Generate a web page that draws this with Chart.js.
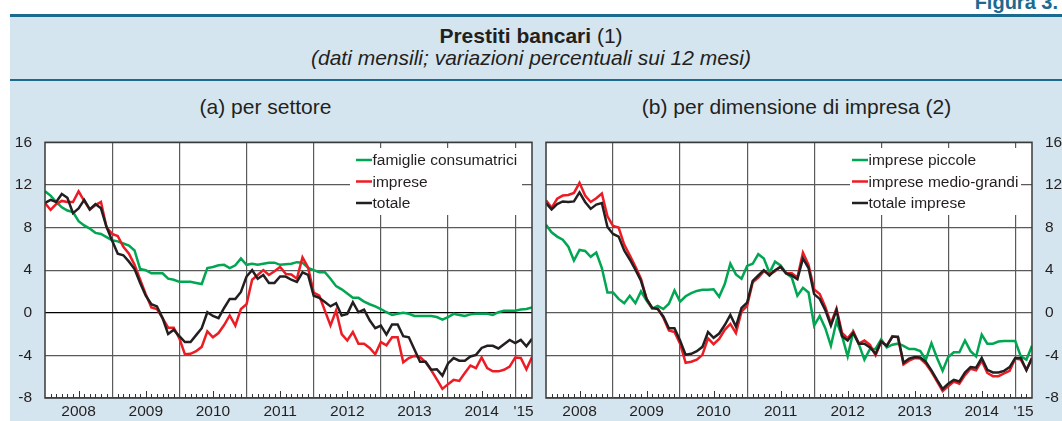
<!DOCTYPE html>
<html lang="it">
<head>
<meta charset="utf-8">
<title>Prestiti bancari</title>
<script src="https://cdn.jsdelivr.net/npm/chart.js@4.4.1/dist/chart.umd.min.js"></script>
<style>
    html, body { margin: 0; padding: 0; background: #fff; }
    body {
        width: 1062px; height: 421px; position: relative; overflow: hidden;
        font-family: "Liberation Sans", Arial, Helvetica, sans-serif; color: #231f20;
    }
    .band { position: absolute; left: 10px; right: 0; top: 14px; bottom: 0; background: #d5e5ef; border-top: 3px solid #1b6a90; }
    .rule { position: absolute; left: 10px; right: 0; top: 79px; height: 2px; background: #1b6a90; }
    .fig { position: absolute; right: 4px; top: -8px; font-size: 20px; line-height: 20px; font-weight: bold; color: #1b6a90; }
    .title, .subtitle, .ptitle { position: absolute; text-align: center; font-size: 21px; line-height: 21px; white-space: nowrap; }
    .title { left: 0; right: 0; top: 25px; }
    .subtitle { left: 0; right: 0; top: 47px; font-style: italic; }
    .ptitle { top: 96px; }
    canvas { position: absolute; top: 120px; }
    #chartA { left: 0; }
    #chartB { left: 540px; }
</style>
</head>
<body>
<div class="band"></div>
<div class="fig">Figura 3.</div>
<div class="title"><b>Prestiti bancari</b> (1)</div>
<div class="subtitle">(dati mensili; variazioni percentuali sui 12 mesi)</div>
<div class="rule"></div>
<div class="ptitle" style="left:0;width:531px">(a) per settore</div>
<div class="ptitle" style="left:531px;width:531px">(b) per dimensione di impresa (2)</div>
<canvas id="chartA" width="540" height="301"></canvas>
<canvas id="chartB" width="522" height="301"></canvas>

<script>
// monthly observations, Jan 2008 .. Apr 2015
const MONTHS = [];
for (let y = 2008; y <= 2015; y++) {
    for (let m = 1; m <= 12; m++) {
        if (y < 2015 || m <= 4) MONTHS.push(y + '-' + String(m).padStart(2, '0'));
    }
}
const YEAR_LABELS = ['2008', '2009', '2010', '2011', '2012', '2013', '2014', "'15"];
const Y_TICKS = [-8, -4, 0, 4, 8, 12, 16];

// (a) per settore
const famiglie = [
    11.4, 11.0, 10.4, 9.9, 9.6, 9.45, 8.6, 8.2, 7.9, 7.5, 7.4, 7.1,
    6.8, 6.7, 6.5, 6.3, 5.85, 4.1, 4.0, 3.7, 3.7, 3.7, 3.2, 3.1,
    2.9, 2.9, 2.9, 2.8, 2.7, 4.2, 4.3, 4.45, 4.5, 4.2, 4.45, 5.1,
    4.5, 4.6, 4.5, 4.6, 4.7, 4.7, 4.5, 4.55, 4.6, 4.75, 4.7, 4.2,
    4.0, 3.8, 3.8, 3.2, 2.5, 2.2, 1.8, 1.4, 1.4, 1.05, 0.8, 0.6,
    0.35, 0.05, -0.2, -0.1, 0.0, -0.1, -0.3, -0.3, -0.3, -0.3, -0.4, -0.65,
    -0.4, -0.1, -0.2, -0.3, -0.15, -0.1, -0.1, -0.1, -0.2, 0.05, 0.2, 0.2,
    0.2, 0.3, 0.35, 0.5
];
const imprese = [
    10.3, 9.65, 10.2, 10.5, 10.4, 10.4, 11.4, 10.5, 9.7, 10.1, 10.4, 8.0,
    7.4, 7.2, 6.2, 5.55, 4.5, 3.1, 1.75, 0.5, 0.35, -0.5, -1.4, -1.4,
    -2.4, -3.9, -3.85, -3.6, -3.2, -1.75, -2.3, -1.9, -1.15, -0.25, -1.2, 0.35,
    0.8, 3.1, 3.55, 4.0, 3.55, 3.9, 4.3, 3.65, 3.6, 3.2, 5.2, 4.25,
    1.9, 1.6, 0.2, -1.2, 0.2, -2.0, -2.6, -1.8, -2.9, -2.9, -3.3, -3.9,
    -2.75, -3.05, -2.3, -2.3, -4.65, -4.25, -4.05, -4.15, -4.65, -5.4, -6.25, -7.15,
    -6.7, -6.3, -6.4, -5.65, -4.95, -5.2, -4.2, -5.2, -5.5, -5.5, -5.35, -5.05,
    -4.2, -4.25, -5.3, -4.15
];
const totale = [
    10.3, 10.6, 10.4, 11.15, 10.8, 9.35, 9.8, 10.6, 9.7, 10.2, 9.8, 8.05,
    6.75, 5.55, 5.4, 4.8, 4.1, 2.8, 1.6, 0.8, 0.6, -0.5, -2.0, -1.6,
    -2.2, -2.75, -2.75, -2.1, -1.45, 0.05, -0.3, -0.5, 0.45, 1.3, 1.3, 1.95,
    3.4, 4.0, 3.2, 3.55, 2.8, 2.8, 3.4, 3.4, 3.1, 2.9, 3.8, 3.55,
    1.6, 1.4, 1.0, 0.6, 0.9, -0.25, -0.1, 1.0, 0.05, 0.3, -0.7, -1.45,
    -1.2, -2.05, -1.1, -1.1, -2.2, -2.3, -3.45, -4.6, -4.6, -5.35, -5.3, -5.9,
    -4.75, -4.25, -4.5, -4.5, -4.1, -3.95, -3.3, -3.1, -3.1, -3.35, -2.95, -2.55,
    -2.85, -2.55, -3.15, -2.45
];

// (b) per dimensione di impresa
const piccole = [
    8.25, 7.55, 7.15, 6.85, 6.2, 4.9, 5.9, 5.8, 5.25, 5.65, 4.2, 1.9,
    1.9, 1.3, 0.9, 1.6, 0.9, 2.0, 1.15, 0.4, 0.65, 0.35, 0.85, 2.1,
    1.05, 1.55, 1.85, 2.05, 2.15, 2.15, 2.2, 1.5, 2.7, 4.6, 3.6, 3.2,
    4.4, 4.6, 5.5, 5.1, 3.75, 4.8, 4.45, 3.7, 3.3, 1.6, 2.35, 1.9,
    -1.2, -0.3, -1.45, -3.1, -0.8, -2.2, -4.1, -1.8, -2.95, -4.4, -3.4, -3.4,
    -2.5, -3.25, -3.0, -2.9, -3.1, -3.4, -3.4, -3.6, -4.4, -2.85, -4.25, -5.45,
    -4.15, -3.7, -3.7, -2.6, -3.6, -4.1, -2.05, -2.9, -2.9, -2.7, -2.65, -2.65,
    -2.65, -4.1, -4.4, -3.1
];
const medioGrandi = [
    10.55, 9.85, 10.7, 11.0, 11.05, 11.25, 12.2, 11.0, 10.4, 10.75, 11.2, 9.05,
    8.15, 8.0, 6.4, 5.4, 4.35, 3.2, 1.3, 0.45, 0.4, -0.45, -1.65, -1.8,
    -2.9, -4.7, -4.6, -4.4, -3.95, -2.4, -2.95, -2.45, -1.6, -1.05, -1.9, 0.1,
    0.65, 2.85, 3.3, 3.9, 3.6, 3.9, 4.35, 3.7, 3.7, 3.3, 5.65, 4.5,
    2.2, 1.75, 0.55, -1.0, 0.4, -1.9, -2.4, -1.75, -2.9, -2.6, -3.0, -4.0,
    -2.7, -3.1, -2.2, -2.3, -4.85, -4.5, -4.25, -4.3, -4.8, -5.55, -6.45, -7.35,
    -6.9, -6.45, -6.65, -5.85, -5.25, -5.4, -4.5, -5.65, -5.95, -5.95, -5.7, -5.45,
    -4.3, -4.4, -5.35, -4.25
];
const totaleImprese = [
    10.3, 9.7, 10.2, 10.45, 10.4, 10.45, 11.3, 10.4, 9.75, 10.15, 10.3, 8.05,
    7.4, 7.15, 5.85, 5.0, 4.05, 3.0, 1.3, 0.45, 0.35, -0.35, -1.45, -1.45,
    -2.6, -3.95, -3.85, -3.6, -3.2, -1.8, -2.35, -1.95, -1.15, -0.2, -1.3, 0.45,
    0.95, 3.0, 3.5, 4.0, 3.5, 4.0, 4.3, 3.7, 3.5, 3.15, 5.1, 4.2,
    1.75, 1.3, 0.25, -1.2, 0.25, -2.2, -2.6, -1.9, -2.9, -2.9, -3.25, -3.85,
    -2.7, -3.1, -2.25, -2.25, -4.7, -4.3, -4.15, -4.2, -4.6, -5.4, -6.3, -7.15,
    -6.65, -6.3, -6.45, -5.6, -5.1, -5.15, -4.25, -5.35, -5.6, -5.6, -5.45, -5.1,
    -4.25, -4.25, -5.4, -4.25
];

const GREEN = '#00a651';
const RED = '#ed1c24';
const BLACK = '#231f20';
const TEXT = '#231f20';
const GRID = '#5a5a5a';
const FONT_FAMILY = '"Liberation Sans", Arial, Helvetica, sans-serif';
const FONT_SIZE = 15.5;

// x axis: month index, year boundaries every 12, year labels in the middle of each year
const LAST = MONTHS.length - 1;
const yearStarts = [];
const yearCentres = [];
MONTHS.forEach((m, i) => {
    if (m.endsWith('-01')) {
        if (i > 0) yearStarts.push(i);
        yearCentres.push((i + Math.min(i + 12, LAST)) / 2);
    }
});

const toPoints = arr => arr.map((v, i) => ({ x: i, y: v }));

// white plot background, frame and monthly ticks
const plotFrame = {
    id: 'plotFrame',
    beforeDraw(chart) {
        const a = chart.chartArea;
        const ctx = chart.ctx;
        ctx.save();
        ctx.fillStyle = '#fff';
        ctx.fillRect(a.left, a.top, a.right - a.left, a.bottom - a.top);
        ctx.restore();
    },
    afterDraw(chart) {
        const a = chart.chartArea;
        const ctx = chart.ctx;
        const xs = chart.scales.x;
        ctx.save();
        ctx.strokeStyle = '#333';
        ctx.lineWidth = 1;
        for (let m = 1; m < LAST; m++) {
            if (m % 12 === 0) continue;
            const x = Math.round(xs.getPixelForValue(m)) + 0.5;
            const len = m % 12 === 6 ? 7 : 4;
            ctx.beginPath();
            ctx.moveTo(x, a.bottom);
            ctx.lineTo(x, a.bottom - len);
            ctx.stroke();
        }
        ctx.strokeStyle = '#3a3a3a';
        ctx.lineWidth = 1.5;
        ctx.strokeRect(a.left, a.top, a.right - a.left, a.bottom - a.top);
        ctx.restore();
    }
};

// legend in a white box inside the plot
const boxLegend = {
    id: 'boxLegend',
    afterDatasetsDraw(chart, args, opts) {
        const ctx = chart.ctx;
        ctx.save();
        ctx.fillStyle = '#fff';
        ctx.fillRect(opts.x, opts.y, opts.w, opts.h);
        ctx.font = FONT_SIZE + 'px ' + FONT_FAMILY;
        ctx.textBaseline = 'middle';
        chart.data.datasets.forEach((ds, i) => {
            const cy = opts.rowY + i * opts.rowGap;
            ctx.strokeStyle = ds.borderColor;
            ctx.lineWidth = 2.5;
            ctx.beginPath();
            ctx.moveTo(opts.lineX, cy);
            ctx.lineTo(opts.lineX + 16, cy);
            ctx.stroke();
            ctx.fillStyle = TEXT;
            ctx.fillText(ds.label, opts.lineX + 16.5, cy + 1);
        });
        ctx.restore();
    }
};

function makePanel(canvasId, series, cfg) {
    const datasets = series.map(s => ({
        label: s.label,
        data: toPoints(s.data),
        borderColor: s.color,
        borderWidth: 2.5,
        pointRadius: 0,
        tension: 0,
        order: s.order
    }));

    return new Chart(document.getElementById(canvasId), {
        type: 'line',
        data: { datasets },
        options: {
            responsive: false,
            animation: false,
            events: [],
            layout: { padding: cfg.padding },
            plugins: {
                legend: { display: false },
                tooltip: { enabled: false },
                boxLegend: cfg.legend
            },
            scales: {
                x: {
                    type: 'linear',
                    min: 0,
                    max: LAST,
                    afterBuildTicks: scale => {
                        scale.ticks = yearStarts.concat(yearCentres).map(v => ({ value: v }));
                    },
                    afterFit: scale => { scale.height = 23; },
                    border: { display: false },
                    grid: {
                        drawTicks: false,
                        color: ctx => yearStarts.includes(ctx.tick.value) ? GRID : 'rgba(0,0,0,0)',
                        lineWidth: 1.2
                    },
                    ticks: {
                        autoSkip: false,
                        maxRotation: 0,
                        padding: 4,
                        color: TEXT,
                        font: { family: FONT_FAMILY, size: FONT_SIZE },
                        callback: v => {
                            const k = yearCentres.indexOf(v);
                            return k >= 0 ? YEAR_LABELS[k] : '';
                        }
                    }
                },
                y: {
                    position: cfg.yPosition,
                    min: Y_TICKS[0],
                    max: Y_TICKS[Y_TICKS.length - 1],
                    afterFit: scale => { scale.width = cfg.yWidth; },
                    border: { display: false },
                    grid: {
                        drawTicks: false,
                        color: ctx => (ctx.tick.value === 0 && cfg.zeroBlack) ? '#000' : GRID,
                        lineWidth: 1.2
                    },
                    ticks: {
                        stepSize: 4,
                        padding: 13,
                        color: TEXT,
                        font: { family: FONT_FAMILY, size: FONT_SIZE }
                    }
                }
            }
        },
        plugins: [plotFrame, boxLegend]
    });
}

makePanel('chartA', [
    { label: 'famiglie consumatrici', data: famiglie, color: GREEN, order: 2 },
    { label: 'imprese', data: imprese, color: RED, order: 1 },
    { label: 'totale', data: totale, color: BLACK, order: 0 }
], {
    padding: { top: 16, right: 8, left: 0, bottom: 0 },
    yPosition: 'left',
    yWidth: 45,
    zeroBlack: true,
    legend: { x: 350, y: 28, w: 172, h: 67, lineX: 356, rowY: 40, rowGap: 21.5 }
});

makePanel('chartB', [
    { label: 'imprese piccole', data: piccole, color: GREEN, order: 2 },
    { label: 'imprese medio-grandi', data: medioGrandi, color: RED, order: 1 },
    { label: 'totale imprese', data: totaleImprese, color: BLACK, order: 0 }
], {
    padding: { top: 16, right: 0, left: 6, bottom: 0 },
    yPosition: 'right',
    yWidth: 30,
    zeroBlack: false,
    legend: { x: 310, y: 28, w: 171, h: 67, lineX: 312, rowY: 40, rowGap: 21.5 }
});
</script>
</body>
</html>
